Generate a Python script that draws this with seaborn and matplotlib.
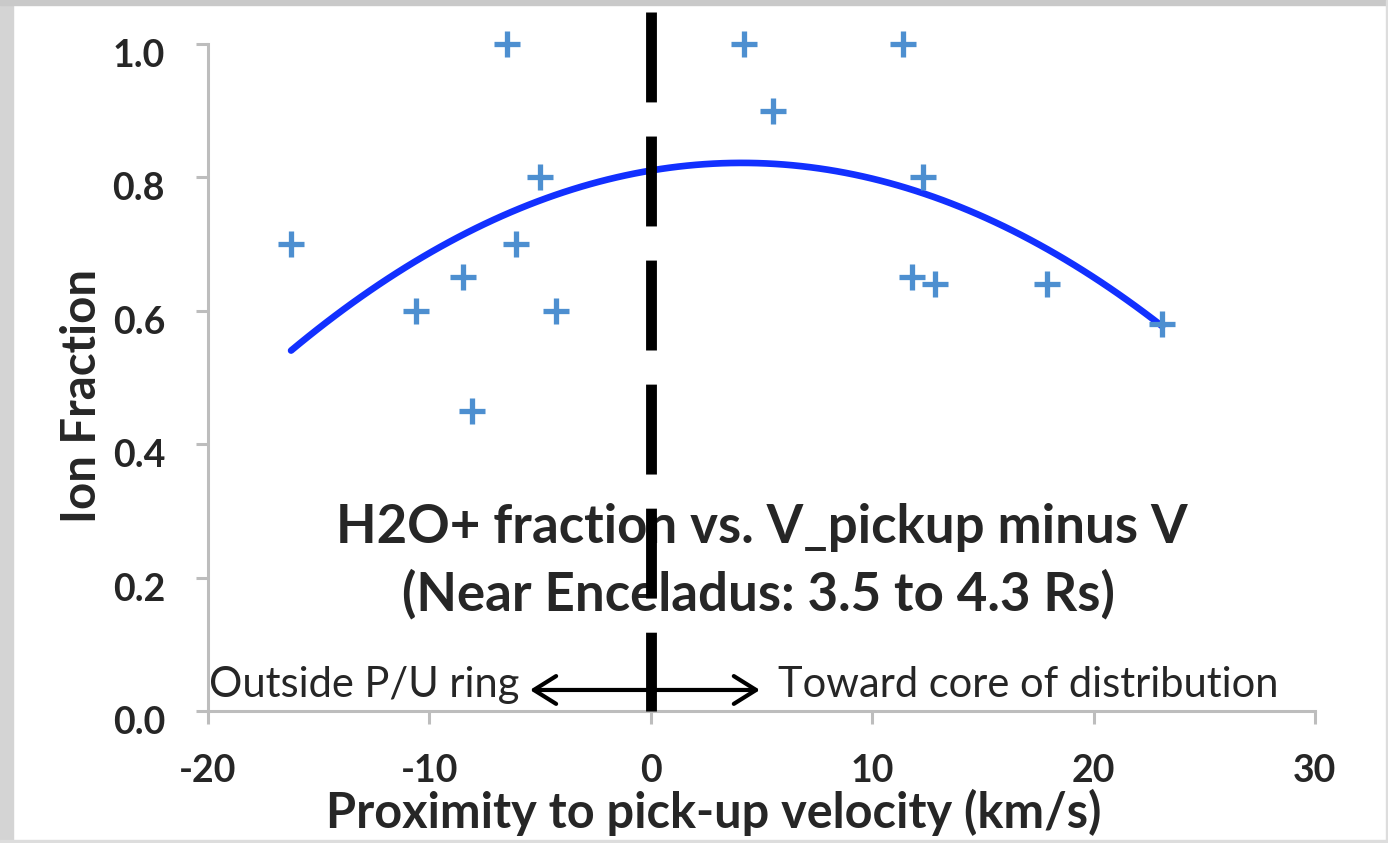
"""   H2O+ ion fraction vs. proximity to pick-up velocity, with a 2nd order trend line   """
import matplotlib.pyplot as plt
from matplotlib.patches import Rectangle
from matplotlib.transforms import ScaledTranslation
import seaborn as sns


# ~~~~~~~  Data  ~~~~~~~ ~~~~~~~~~ ~~~~~~~ #
velocity = [-16.25, -6.5, -10.6, -8.5, -8.1, -5.0, -6.1, -4.3,
            4.2, 5.5, 11.4, 12.3, 11.8, 12.85, 17.9, 23.1]
ion_fraction = [0.70, 1.00, 0.60, 0.65, 0.45, 0.80, 0.70, 0.60,
                1.00, 0.90, 1.00, 0.80, 0.65, 0.64, 0.64, 0.58]

x_ticks = [-20, -10, 0, 10, 20, 30]
y_ticks = [0.0, 0.2, 0.4, 0.6, 0.8, 1.0]

title_lines = ['H2O+ fraction vs. V_pickup minus V', '(Near Enceladus: 3.5 to 4.3 Rs)']
left_note = 'Outside P/U ring'
right_note = 'Toward core of distribution'


# ~~~~~~~  Figure  ~~~~~~~ ~~~~~~~~~ ~~~~~~~ #
sns.set_style('ticks')
plt.rcParams['font.family'] = ['Lato', 'DejaVu Sans']

fig = plt.figure(figsize=(13.88, 8.43), dpi=100)
ax = fig.add_axes([0.1499, 0.1566, 0.7975, 0.7912])

# grey frame of the screenshot
fig.patches.append(Rectangle((0, 0), 0.0095, 1, transform=fig.transFigure, color='#d4d4d4', zorder=0))
fig.patches.append(Rectangle((0, 0.994), 1, 0.006, transform=fig.transFigure, color='#c9c9c9', zorder=0))
fig.patches.append(Rectangle((0.9985, 0), 0.0015, 1, transform=fig.transFigure, color='#dddddd', zorder=0))
fig.patches.append(Rectangle((0, 0), 1, 0.003, transform=fig.transFigure, color='#dddddd', zorder=0))

# trend line (2nd order polynomial) and the points
sns.regplot(x=velocity, y=ion_fraction, order=2, ci=None, scatter=False, ax=ax,
            line_kws=dict(color='#1230ff', linewidth=4.8, solid_capstyle='round'))
sns.scatterplot(x=velocity, y=ion_fraction, marker='+', s=340, linewidth=3.8,
                color='#4d8fd0', ax=ax, zorder=3, clip_on=False)

# dashed divider at zero, drawn from the top down so the dashes line up
ax.plot([0, 0], [1.0486, 0], color='black', linewidth=7.8, dashes=(8.3, 3.15),
        clip_on=False, zorder=4)

# double arrow and the two notes
ax.annotate('', xy=(-5.46, 0.0315), xytext=(4.93, 0.0315),
            arrowprops=dict(arrowstyle='<->,head_length=0.8,head_width=0.5', color='black',
                            linewidth=3, shrinkA=0, shrinkB=0, mutation_scale=20))
ax.text(-5.95, 0.021, left_note, ha='right', va='baseline', fontsize=30)
ax.text(5.75, 0.021, right_note, ha='left', va='baseline', fontsize=30)

# text block in the middle
ax.text(5.0, 0.252, title_lines[0], ha='center', va='baseline', fontsize=38, fontweight='bold')
ax.text(4.85, 0.151, title_lines[1], ha='center', va='baseline', fontsize=38, fontweight='bold')

# axes look
ax.set_xlim(-20, 30)
ax.set_ylim(0, 1)
ax.set_xticks(x_ticks)
ax.set_yticks(y_ticks)
ax.set_xticklabels([str(t) for t in x_ticks])
ax.set_yticklabels([f'{t:.1f}' for t in y_ticks])
ax.tick_params(axis='x', length=9, width=2.2, color='#bdbdbd', pad=22, labelsize=27)
ax.tick_params(axis='y', length=9, width=2.2, color='#bdbdbd', pad=22, labelsize=27)
shift = ScaledTranslation(0, -9 / 100, fig.dpi_scale_trans)
for lab in ax.get_yticklabels():
    lab.set_transform(lab.get_transform() + shift)
for lab in ax.get_xticklabels() + ax.get_yticklabels():
    lab.set_fontweight('bold')
sns.despine(ax=ax)
for side in ['left', 'bottom']:
    ax.spines[side].set_color('#bdbdbd')
    ax.spines[side].set_linewidth(2.2)

ax.set_xlabel('Proximity to pick-up velocity (km/s)', fontsize=35, fontweight='bold')
ax.set_ylabel('Ion Fraction', fontsize=34, fontweight='bold')
ax.xaxis.set_label_coords(0.457, -0.117)
ax.yaxis.set_label_coords(-0.094, 0.472)

fig.savefig('out.png', dpi=100)
